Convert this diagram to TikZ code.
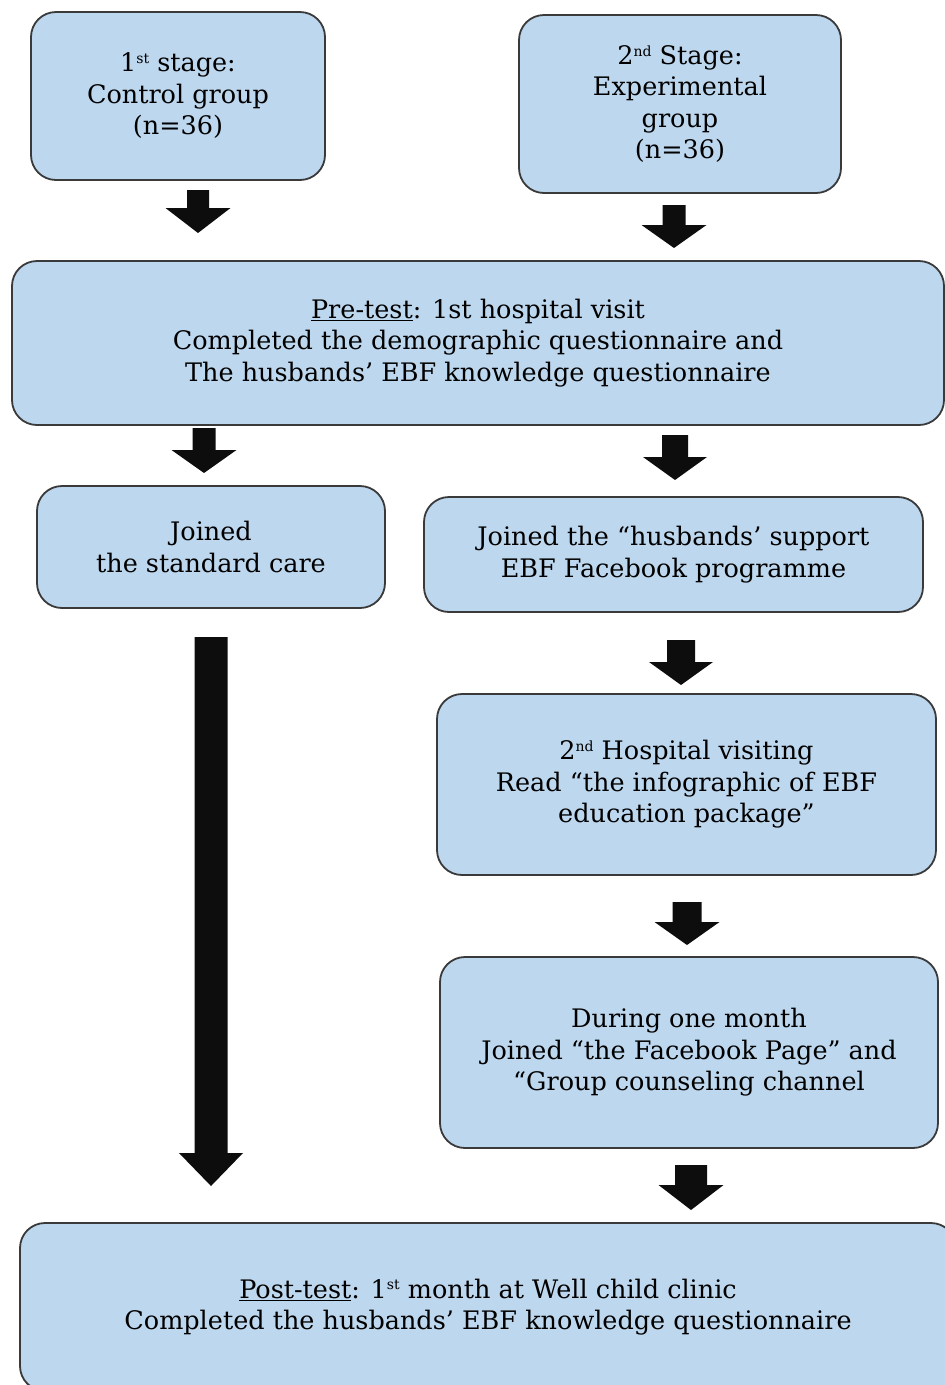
\documentclass[tikz,border=0pt]{standalone}
\usepackage{fontspec}
\setmainfont{DejaVu Serif}
\usetikzlibrary{calc}
\definecolor{boxfill}{HTML}{BDD7EE}
\definecolor{boxline}{HTML}{3A3A3A}
\definecolor{arrowcol}{HTML}{0D0D0D}
% block arrow between two named coordinates: #1 start, #2 tip, #3 shaft width, #4 head width, #5 head length
\newcommand{\blockarr}[5]{%
  \fill[arrowcol] let \p1=(#1), \p2=(#2) in
   (\x2-#3/2,\y1) -- (\x2+#3/2,\y1) -- (\x2+#3/2,\y2+#5) -- (\x2+#4/2,\y2+#5)
   -- (\x2,\y2) -- (\x2-#4/2,\y2+#5) -- (\x2-#3/2,\y2+#5) -- cycle;}
\newcommand{\supx}[1]{\raisebox{0.32em}{\fontsize{14}{14}\selectfont #1}}
\tikzset{
  box/.style={draw=boxline, line width=1.8pt, fill=boxfill, rounded corners=25pt,
    align=center, inner sep=0pt, font=\fontsize{25.5}{31.5}\selectfont},
}
\begin{document}
\begin{tikzpicture}[x=1pt,y=-1pt]
\useasboundingbox (0,0) rectangle (945,1385);
\fill[white] (0,0) rectangle (945,1385);
\clip (0,0) rectangle (945,1385);

\node[box, minimum width=294pt, minimum height=168pt] (ctrl) at (178,96)
  {1\supx{st} stage:\\Control group\\(n=36)};
\node[box, minimum width=322pt, minimum height=178pt] (exp) at (680,104)
  {2\supx{nd} Stage:\\Experimental\\group\\(n=36)};
\node[box, minimum width=932pt, minimum height=164pt] (pre) at (478,343)
  {\underline{Pre-test}: 1st hospital visit\\Completed the demographic questionnaire and\\The husbands’ EBF knowledge questionnaire};
\node[box, minimum width=348pt, minimum height=122pt] (std) at (211,547)
  {Joined\\the standard care};
\node[box, minimum width=499pt, minimum height=115pt] (hus) at (673.5,554.5)
  {Joined the “husbands’ support\\EBF Facebook programme};
\node[box, minimum width=499pt, minimum height=181pt] (hosp) at (686.5,784.5)
  {2\supx{nd} Hospital visiting\\Read “the infographic of EBF\\education package”};
\node[box, minimum width=498pt, minimum height=191pt] (month) at (689,1052.5)
  {During one month\\Joined “the Facebook Page” and\\“Group counseling channel};
\node[box, minimum width=936pt, minimum height=168pt] (post) at (488,1307)
  {\underline{Post-test}: 1\supx{st} month at Well child clinic\\Completed the husbands’ EBF knowledge questionnaire};

% arrow end points
\coordinate (a1s) at (198,190);  \coordinate (a1e) at (198,233);
\coordinate (a2s) at (674,205);  \coordinate (a2e) at (674,248);
\coordinate (a3s) at (204,428);  \coordinate (a3e) at (204,473);
\coordinate (a4s) at (675,435);  \coordinate (a4e) at (675,480);
\coordinate (a5s) at (681,640);  \coordinate (a5e) at (681,685);
\coordinate (a6s) at (687,902);  \coordinate (a6e) at (687,945);
\coordinate (a7s) at (691,1165); \coordinate (a7e) at (691,1210);
\coordinate (a8s) at (211,637);  \coordinate (a8e) at (211,1186);

\blockarr{a1s}{a1e}{22pt}{65pt}{25pt}
\blockarr{a2s}{a2e}{23pt}{65pt}{23pt}
\blockarr{a3s}{a3e}{23pt}{65pt}{23pt}
\blockarr{a4s}{a4e}{26pt}{64pt}{23pt}
\blockarr{a5s}{a5e}{28pt}{64pt}{23pt}
\blockarr{a6s}{a6e}{29pt}{65pt}{23pt}
\blockarr{a7s}{a7e}{32pt}{65pt}{25pt}
\blockarr{a8s}{a8e}{33pt}{64pt}{33pt}
\end{tikzpicture}
\end{document}
